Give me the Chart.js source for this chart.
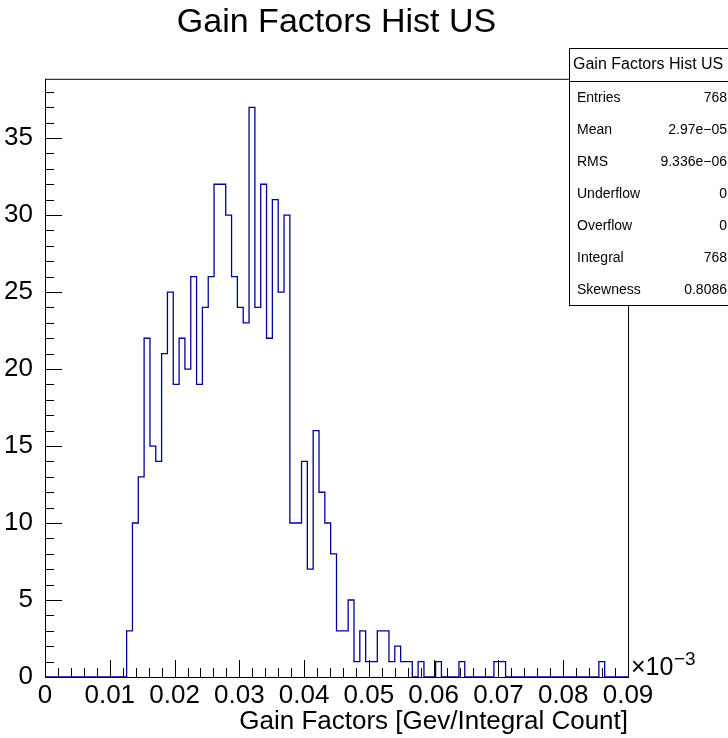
<!DOCTYPE html>
<html>
<head>
<meta charset="utf-8">
<script src="https://cdn.jsdelivr.net/npm/chart.js@4.4.1/dist/chart.umd.min.js"></script>
<style>
  body { margin: 0; background: #fff; }
  #wrap { width: 728px; height: 738px; }
</style>
</head>
<body>
<div id="wrap"><canvas id="hist" width="728" height="738"></canvas></div>
<script>
// histogram: 100 bins from 0 to 0.09 (x 10^-3)
const xMin = 0;
const xMax = 0.09;
const binCounts = [
  0, 0, 0, 0, 0, 0, 0, 0, 0, 0,
  0, 0, 0, 0, 3, 10, 13, 22, 15, 14,
  21, 25, 19, 22, 20, 26, 19, 24, 26, 32,
  32, 30, 26, 24, 23, 37, 24, 32, 22, 31,
  25, 30, 10, 10, 14, 7, 16, 12, 10, 8,
  3, 3, 5, 1, 3, 1, 1, 3, 3, 1,
  2, 1, 1, 0, 1, 0, 0, 1, 0, 0,
  0, 1, 0, 0, 0, 0, 0, 1, 1, 0,
  0, 0, 0, 0, 0, 0, 0, 0, 0, 0,
  0, 0, 0, 0, 0, 1, 0, 0, 0, 0
];
const xTicks = [0, 0.01, 0.02, 0.03, 0.04, 0.05, 0.06, 0.07, 0.08, 0.09];
const yTicks = [0, 5, 10, 15, 20, 25, 30, 35];
const yMax = 38.85;

const statLabels = ["Entries", "Mean", "RMS", "Underflow", "Overflow", "Integral", "Skewness"];
const statValues = ["768", "2.97e\u221205", "9.336e\u221206", "0", "0", "768", "0.8086"];

const FONT = "'Liberation Sans', Arial, Helvetica, sans-serif";

// bin edges -> step points
const nBins = binCounts.length;
const binW = (xMax - xMin) / nBins;
const points = binCounts.map((c, i) => ({ x: xMin + i * binW, y: c }));
points.push({ x: xMax, y: 0 });

// ROOT style frame + inward ticks
const rootAxes = {
  id: "rootAxes",
  afterDraw(chart) {
    const { ctx, chartArea: a, scales } = chart;
    const xs = scales.x, ys = scales.y;
    ctx.save();
    ctx.strokeStyle = "#000";
    ctx.lineWidth = 1;
    ctx.strokeRect(a.left + 0.5, a.top + 0.5, a.right - a.left, a.bottom - a.top);

    ctx.beginPath();
    for (let k = 0; k <= 45; k++) {
      const v = k * 0.002;
      const px = Math.round(xs.getPixelForValue(v)) + 0.5;
      const len = k % 5 === 0 ? 17 : 9;
      ctx.moveTo(px, a.bottom);
      ctx.lineTo(px, a.bottom - len);
    }
    for (let v = 0; v <= yMax; v++) {
      const py = Math.round(ys.getPixelForValue(v)) + 0.5;
      const len = v % 5 === 0 ? 17 : 9;
      ctx.moveTo(a.left, py);
      ctx.lineTo(a.left + len, py);
    }
    ctx.stroke();

    // exponent label
    ctx.fillStyle = "#000";
    ctx.textBaseline = "alphabetic";
    ctx.textAlign = "left";
    ctx.font = "25px " + FONT;
    ctx.fillText("\u00d710", a.right + 3, 675);
    ctx.font = "19px " + FONT;
    ctx.fillText("\u22123", a.right + 46, 665);
    ctx.restore();
  }
};

// stats box
const statsBox = {
  id: "statsBox",
  afterDraw(chart) {
    const { ctx } = chart;
    const left = 569.5, top = 48.5, right = 740, bottom = 305.5;
    ctx.save();
    ctx.fillStyle = "#fff";
    ctx.fillRect(left, top, right - left, bottom - top);
    ctx.strokeStyle = "#000";
    ctx.lineWidth = 1;
    ctx.strokeRect(left, top, right - left, bottom - top);
    ctx.beginPath();
    ctx.moveTo(left, 81.5);
    ctx.lineTo(right, 81.5);
    ctx.stroke();

    ctx.fillStyle = "#000";
    ctx.textBaseline = "middle";
    ctx.font = "16px " + FONT;
    ctx.textAlign = "left";
    ctx.fillText("Gain Factors Hist US", 573, 65);

    ctx.font = "14px " + FONT;
    statLabels.forEach((lab, i) => {
      const y = 98 + i * 32;
      ctx.textAlign = "left";
      ctx.fillText(lab, 577, y);
      ctx.textAlign = "right";
      ctx.fillText(statValues[i], 727, y);
    });
    ctx.restore();
  }
};

new Chart(document.getElementById("hist"), {
  type: "line",
  data: {
    datasets: [{
      label: "Gain Factors Hist US",
      data: points,
      stepped: "before",
      borderColor: "#000099",
      borderWidth: 1.3,
      pointRadius: 0,
      fill: false,
    }],
  },
  options: {
    responsive: false,
    animation: false,
    layout: { padding: { left: 0, right: 100, top: 0, bottom: 0 } },
    plugins: {
      legend: { display: false },
      tooltip: { enabled: false },
      title: {
        display: true,
        text: "Gain Factors Hist US",
        fullSize: false,
        color: "#000",
        font: { family: FONT, size: 34, weight: "normal", lineHeight: 1.2 },
        padding: { top: 2, bottom: 36 },
      },
    },
    scales: {
      x: {
        type: "linear",
        min: xMin,
        max: xMax,
        grid: { display: false },
        border: { display: false },
        afterFit: (s) => { s.height = 61; },
        afterBuildTicks: (s) => { s.ticks = xTicks.map((v) => ({ value: v })); },
        ticks: {
          color: "#000",
          padding: -5,
          maxRotation: 0,
          autoSkip: false,
          font: { family: FONT, size: 26 },
          callback: (v) => String(+v.toFixed(2)),
        },
        title: {
          display: true,
          text: "Gain Factors [Gev/Integral Count]",
          align: "end",
          color: "#000",
          font: { family: FONT, size: 26 },
          padding: { top: 0, bottom: 1 },
        },
      },
      y: {
        min: 0,
        max: yMax,
        grid: { display: false },
        border: { display: false },
        afterFit: (s) => { s.width = 45; },
        afterBuildTicks: (s) => { s.ticks = yTicks.map((v) => ({ value: v })); },
        ticks: {
          color: "#000",
          padding: 4,
          autoSkip: false,
          font: { family: FONT, size: 26 },
        },
      },
    },
  },
  plugins: [rootAxes, statsBox],
});
</script>
</body>
</html>
